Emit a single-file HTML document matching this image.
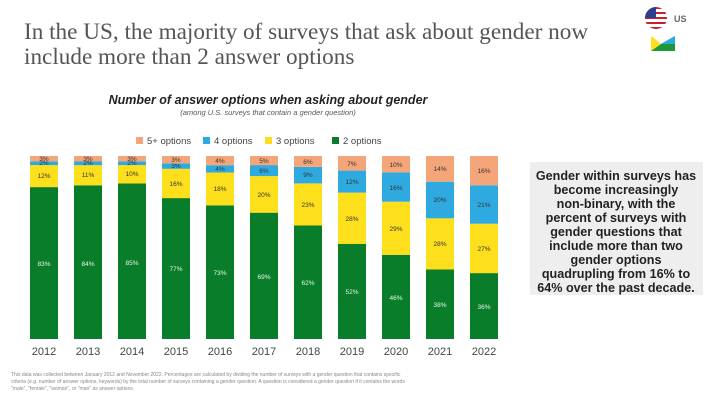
<!DOCTYPE html>
<html><head><meta charset="utf-8"><style>
body{margin:0;width:711px;height:400px;background:#fff;overflow:hidden;font-family:"Liberation Sans",sans-serif}
</style></head><body>
<svg width="711" height="400" xmlns="http://www.w3.org/2000/svg" font-family="Liberation Sans, sans-serif">
<text x="24" y="39" font-family="Liberation Serif, serif" font-size="23.2" fill="#555">In the US, the majority of surveys that ask about gender now</text>
<text x="24" y="64" font-family="Liberation Serif, serif" font-size="23.2" fill="#555">include more than 2 answer options</text>
<defs><clipPath id="c"><circle cx="656" cy="18" r="11"/></clipPath></defs>
<g clip-path="url(#c)">
<rect x="645" y="7" width="22" height="22" fill="#fff"/>
<rect x="645" y="7" width="22" height="2" fill="#c8202f"/><rect x="645" y="12" width="22" height="2" fill="#c8202f"/><rect x="645" y="17" width="22" height="2" fill="#c8202f"/><rect x="645" y="22" width="22" height="2" fill="#c8202f"/><rect x="645" y="27" width="22" height="2" fill="#c8202f"/>
<rect x="645" y="7" width="11" height="11" fill="#2d3f8a"/></g>
<text x="674" y="22" font-size="9" font-weight="bold" fill="#666">US</text>
<polygon points="651,36 661,44 651,51" fill="#fddf1c"/><polygon points="651,51 661,44 675,36 675,51" fill="#1a9a3a"/><polygon points="661,44 675,36 675,44" fill="#2eaae1"/>
<text x="268" y="104" text-anchor="middle" font-size="12.5" font-weight="bold" font-style="italic" fill="#222">Number of answer options when asking about gender</text>
<text x="268" y="115" text-anchor="middle" font-size="7.5" font-style="italic" fill="#555">(among U.S. surveys that contain a gender question)</text>
<g font-size="9.5" fill="#444">
<rect x="136" y="137" width="7" height="7" fill="#f5a57a"/><text x="147" y="144">5+ options</text>
<rect x="203" y="137" width="7" height="7" fill="#2eaae1"/><text x="214" y="144">4 options</text>
<rect x="265" y="137" width="7" height="7" fill="#fddf1c"/><text x="276" y="144">3 options</text>
<rect x="332" y="137" width="7" height="7" fill="#0a7d2a"/><text x="343" y="144">2 options</text>
</g>
<g>
<rect x="30" y="187.1" width="28" height="151.9" fill="#0a7d2a"/><rect x="30" y="165.1" width="28" height="22" fill="#fddf1c"/><rect x="30" y="161.4" width="28" height="3.7" fill="#2eaae1"/><rect x="30" y="156" width="28" height="5.4" fill="#f5a57a"/>
<rect x="74" y="185.3" width="28" height="153.7" fill="#0a7d2a"/><rect x="74" y="165.2" width="28" height="20.1" fill="#fddf1c"/><rect x="74" y="161.5" width="28" height="3.7" fill="#2eaae1"/><rect x="74" y="156" width="28" height="5.5" fill="#f5a57a"/>
<rect x="118" y="183.4" width="28" height="155.6" fill="#0a7d2a"/><rect x="118" y="165.1" width="28" height="18.3" fill="#fddf1c"/><rect x="118" y="161.4" width="28" height="3.7" fill="#2eaae1"/><rect x="118" y="156" width="28" height="5.4" fill="#f5a57a"/>
<rect x="162" y="198.1" width="28" height="140.9" fill="#0a7d2a"/><rect x="162" y="168.8" width="28" height="29.3" fill="#fddf1c"/><rect x="162" y="163.3" width="28" height="5.5" fill="#2eaae1"/><rect x="162" y="156" width="28" height="7.3" fill="#f5a57a"/>
<rect x="206" y="205.4" width="28" height="133.6" fill="#0a7d2a"/><rect x="206" y="172.5" width="28" height="32.9" fill="#fddf1c"/><rect x="206" y="165.2" width="28" height="7.3" fill="#2eaae1"/><rect x="206" y="156" width="28" height="9.2" fill="#f5a57a"/>
<rect x="250" y="212.7" width="28" height="126.3" fill="#0a7d2a"/><rect x="250" y="176.1" width="28" height="36.6" fill="#fddf1c"/><rect x="250" y="165.1" width="28" height="11" fill="#2eaae1"/><rect x="250" y="156" width="28" height="9.1" fill="#f5a57a"/>
<rect x="294" y="225.5" width="28" height="113.5" fill="#0a7d2a"/><rect x="294" y="183.4" width="28" height="42.1" fill="#fddf1c"/><rect x="294" y="166.9" width="28" height="16.5" fill="#2eaae1"/><rect x="294" y="156" width="28" height="10.9" fill="#f5a57a"/>
<rect x="338" y="243.8" width="28" height="95.2" fill="#0a7d2a"/><rect x="338" y="192.6" width="28" height="51.2" fill="#fddf1c"/><rect x="338" y="170.6" width="28" height="22" fill="#2eaae1"/><rect x="338" y="156" width="28" height="14.6" fill="#f5a57a"/>
<rect x="382" y="254.8" width="28" height="84.2" fill="#0a7d2a"/><rect x="382" y="201.7" width="28" height="53.1" fill="#fddf1c"/><rect x="382" y="172.4" width="28" height="29.3" fill="#2eaae1"/><rect x="382" y="156" width="28" height="16.4" fill="#f5a57a"/>
<rect x="426" y="269.5" width="28" height="69.5" fill="#0a7d2a"/><rect x="426" y="218.3" width="28" height="51.2" fill="#fddf1c"/><rect x="426" y="181.7" width="28" height="36.6" fill="#2eaae1"/><rect x="426" y="156" width="28" height="25.7" fill="#f5a57a"/>
<rect x="470" y="273.1" width="28" height="65.9" fill="#0a7d2a"/><rect x="470" y="223.7" width="28" height="49.4" fill="#fddf1c"/><rect x="470" y="185.3" width="28" height="38.4" fill="#2eaae1"/><rect x="470" y="156" width="28" height="29.3" fill="#f5a57a"/>
</g>
<g font-size="6.5" text-anchor="middle" fill="#333">
<text x="44" y="161">3%</text><text x="44" y="165">2%</text><text x="44" y="178">12%</text>
<text x="88" y="161">3%</text><text x="88" y="165">2%</text><text x="88" y="177">11%</text>
<text x="132" y="161">3%</text><text x="132" y="165">2%</text><text x="132" y="176">10%</text>
<text x="176" y="162">3%</text><text x="176" y="168">3%</text><text x="176" y="186">16%</text>
<text x="220" y="163">4%</text><text x="220" y="171">4%</text><text x="220" y="191">18%</text>
<text x="264" y="163">5%</text><text x="264" y="173">6%</text><text x="264" y="197">20%</text>
<text x="308" y="164">6%</text><text x="308" y="177">9%</text><text x="308" y="207">23%</text>
<text x="352" y="166">7%</text><text x="352" y="184">12%</text><text x="352" y="221">28%</text>
<text x="396" y="167">10%</text><text x="396" y="190">16%</text><text x="396" y="231">29%</text>
<text x="440" y="171">14%</text><text x="440" y="202">20%</text><text x="440" y="246">28%</text>
<text x="484" y="173">16%</text><text x="484" y="207">21%</text><text x="484" y="251">27%</text>
</g>
<g font-size="6.5" text-anchor="middle" fill="#e8f5e8">
<text x="44" y="266">83%</text><text x="88" y="266">84%</text><text x="132" y="265">85%</text><text x="176" y="271">77%</text><text x="220" y="275">73%</text><text x="264" y="279">69%</text><text x="308" y="285">62%</text><text x="352" y="294">52%</text><text x="396" y="300">46%</text><text x="440" y="307">38%</text><text x="484" y="309">36%</text>
</g>
<g font-size="11" text-anchor="middle" fill="#444">
<text x="44" y="355">2012</text><text x="88" y="355">2013</text><text x="132" y="355">2014</text><text x="176" y="355">2015</text><text x="220" y="355">2016</text><text x="264" y="355">2017</text><text x="308" y="355">2018</text><text x="352" y="355">2019</text><text x="396" y="355">2020</text><text x="440" y="355">2021</text><text x="484" y="355">2022</text>
</g>
<rect x="530" y="162" width="173" height="133" fill="#eeeeee"/>
<g font-size="12.6" font-weight="bold" text-anchor="middle" fill="#222">
<text x="616" y="180">Gender within surveys has</text>
<text x="616" y="194">become increasingly</text>
<text x="616" y="208">non-binary, with the</text>
<text x="616" y="222">percent of surveys with</text>
<text x="616" y="236">gender questions that</text>
<text x="616" y="250">include more than two</text>
<text x="616" y="264">gender options</text>
<text x="616" y="278">quadrupling from 16% to</text>
<text x="616" y="292">64% over the past decade.</text>
</g>
<g font-size="5" fill="#888">
<text x="11" y="376">This data was collected between January 2012 and November 2022. Percentages are calculated by dividing the number of surveys with a gender question that contains specific</text>
<text x="11" y="383">criteria (e.g. number of answer options, keywords) by the total number of surveys containing a gender question. A question is considered a gender question if it contains the words</text>
<text x="11" y="390">"male", "female", "woman", or "man" as answer options.</text>
</g>
</svg>
</body></html>
